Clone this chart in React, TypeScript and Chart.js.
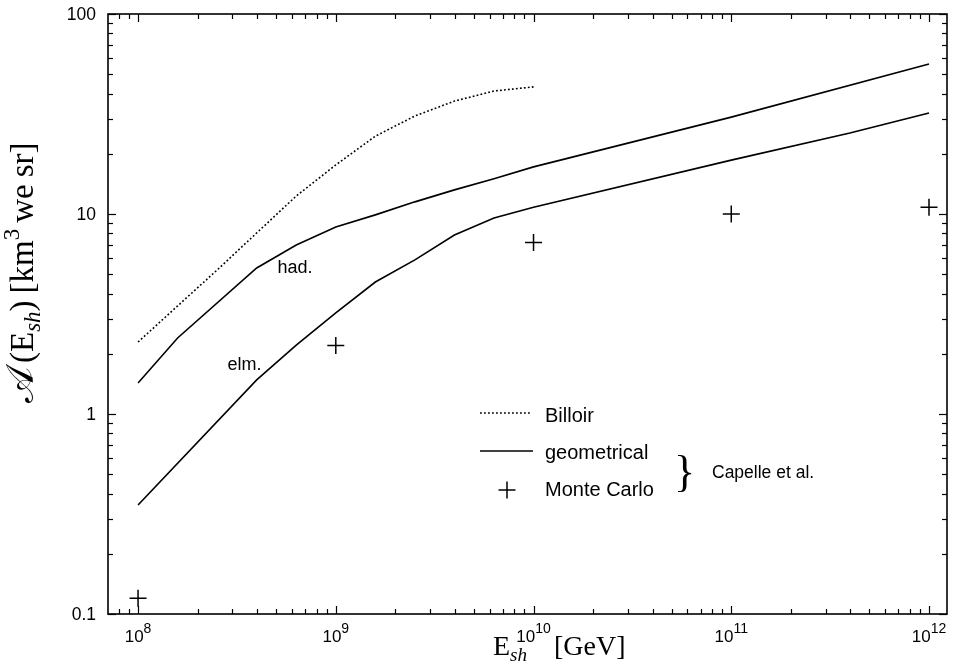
import React, { useEffect, useRef } from "react";
import { Chart, registerables } from "chart.js";

Chart.register(...registerables);

// ---- data ----
const billoirEnergies = [1e8, 1.585e8, 2.512e8, 3.981e8, 6.31e8, 1e9, 1.585e9, 2.512e9, 3.981e9, 6.31e9, 1e10];
const billoirValues = [2.29, 3.47, 5.25, 8.04, 12.3, 17.6, 24.5, 30.9, 36.7, 41.2, 43.2];

const hadEnergies = [1e8, 1.585e8, 3.981e8, 6.31e8, 1e9, 1.585e9, 2.512e9, 3.981e9, 6.31e9, 1e10, 1e11, 1e12];
const hadValues = [1.43, 2.4, 5.37, 7.0, 8.6, 9.9, 11.5, 13.2, 15.0, 17.2, 30.5, 56.2];

const elmEnergies = [1e8, 3.981e8, 6.31e8, 1e9, 1.585e9, 2.512e9, 3.981e9, 6.31e9, 1e10, 1e11, 3.981e11, 1e12];
const elmValues = [0.351, 1.48, 2.21, 3.2, 4.57, 5.9, 7.85, 9.55, 10.8, 18.6, 25.4, 32.0];

const mcEnergies = [1e8, 1e9, 1e10, 1e11, 1e12];
const mcValues = [0.12, 2.2, 7.2, 10.0, 10.8];

const xTickExponents = ["8", "9", "10", "11", "12"];
const yTickValues = [0.1, 1, 10, 100];
const yTickLabels = ["0.1", "1", "10", "100"];

const legendLabels = ["Billoir", "geometrical", "Monte Carlo"];
const groupLabel = "Capelle et al.";

const X_MIN = Math.pow(10, 7.848);
const X_MAX = Math.pow(10, 12.091);

const toPts = (xs: number[], ys: number[]) => xs.map((x, i) => ({ x, y: ys[i] }));

const SANS = "'Liberation Sans', Arial, Helvetica, sans-serif";
const SERIF = "'Liberation Serif', 'Times New Roman', serif";

const decorPlugin = {
  id: "decor",
  afterDraw(chart: any) {
    const ctx: CanvasRenderingContext2D = chart.ctx;
    const { left, right, top, bottom } = chart.chartArea;
    const xs = chart.scales.x;
    const ys = chart.scales.y;
    ctx.save();
    ctx.strokeStyle = "#000";
    ctx.fillStyle = "#000";

    const seg = (x1: number, y1: number, x2: number, y2: number) => {
      ctx.beginPath();
      ctx.moveTo(x1, y1);
      ctx.lineTo(x2, y2);
      ctx.stroke();
    };

    // frame
    ctx.lineWidth = 1.6;
    ctx.strokeRect(left, top, right - left, bottom - top);

    // inward ticks on all sides
    ctx.lineWidth = 1.2;
    for (let e = 7; e <= 12; e++) {
      for (let m = 1; m <= 9; m++) {
        const v = m * Math.pow(10, e);
        if (v < xs.min * 1.0001 || v > xs.max / 1.0001) continue;
        const px = Math.round(xs.getPixelForValue(v)) + 0.5;
        const len = m === 1 ? 8 : 5;
        seg(px, bottom, px, bottom - len);
        seg(px, top, px, top + len);
      }
    }
    for (let e = -1; e <= 2; e++) {
      for (let m = 1; m <= 9; m++) {
        const v = m * Math.pow(10, e);
        if (v < ys.min / 1.0001 || v > ys.max * 1.0001) continue;
        const py = Math.round(ys.getPixelForValue(v)) + 0.5;
        const len = m === 1 ? 8 : 5;
        seg(left, py, left + len, py);
        seg(right, py, right - len, py);
      }
    }

    // y tick labels
    ctx.font = `17.5px ${SANS}`;
    ctx.textAlign = "right";
    ctx.textBaseline = "middle";
    yTickValues.forEach((v, i) => {
      ctx.fillText(yTickLabels[i], left - 12, ys.getPixelForValue(v) + 1);
    });

    // x tick labels 10^n
    ctx.textAlign = "left";
    ctx.textBaseline = "alphabetic";
    xTickExponents.forEach((ex) => {
      const v = Math.pow(10, Number(ex));
      const px = xs.getPixelForValue(v);
      ctx.font = `17px ${SANS}`;
      const wb = ctx.measureText("10").width;
      ctx.font = `14px ${SANS}`;
      const we = ctx.measureText(ex).width;
      const start = px - (wb + we) / 2;
      ctx.font = `17px ${SANS}`;
      ctx.fillText("10", start, bottom + 28);
      ctx.font = `14px ${SANS}`;
      ctx.fillText(ex, start + wb, bottom + 19);
    });

    // x axis title: E_sh [GeV]
    {
      let x = left + 385;
      const base = bottom + 41;
      ctx.font = `28px ${SERIF}`;
      ctx.fillText("E", x, base);
      x += ctx.measureText("E").width;
      ctx.font = `italic 19px ${SERIF}`;
      ctx.fillText("sh", x, base + 6);
      x += ctx.measureText("sh").width + 27;
      ctx.font = `28px ${SERIF}`;
      ctx.fillText("[GeV]", x, base);
    }

    // y axis title: A(E_sh) [km^3 we sr]
    {
      ctx.save();
      ctx.translate(left - 75, top + 389);
      ctx.rotate(-Math.PI / 2);
      let x = 0;
      const big = `33px ${SERIF}`;
      const small = `italic 23px ${SERIF}`;
      const sup = `23px ${SERIF}`;
      const put = (t: string, font: string, dy: number, extra = 0) => {
        ctx.font = font;
        ctx.fillText(t, x, dy);
        x += ctx.measureText(t).width + extra;
      };
      put("\u{1D49C}", `38px 'DejaVu Serif', 'DejaVu Sans', ${SERIF}`, 0, 4);
      put("(", big, 0);
      put("E", big, 0);
      put("sh", small, 7);
      put(")", big, 0, 7);
      put("[km", big, 0);
      put("3", sup, -14, 6);
      put("we", big, 0, 7);
      put("sr]", big, 0);
      ctx.restore();
    }

    // curve annotations
    ctx.font = `18px ${SANS}`;
    ctx.fillText("had.", xs.getPixelForValue(Math.pow(10, 8.705)), ys.getPixelForValue(5.07));
    ctx.fillText("elm.", xs.getPixelForValue(Math.pow(10, 8.452)), ys.getPixelForValue(1.66));

    // legend
    const lx = left + 372;
    const tx = left + 437;
    ctx.lineWidth = 1.6;
    ctx.setLineDash([1.8, 2.2]);
    seg(lx, top + 399, lx + 50, top + 399);
    ctx.setLineDash([]);
    seg(lx, top + 437, lx + 53, top + 437);
    ctx.lineWidth = 1.5;
    seg(lx + 18.5, top + 476, lx + 35.5, top + 476);
    seg(lx + 27, top + 467.5, lx + 27, top + 484.5);
    ctx.font = `20px ${SANS}`;
    ctx.fillText(legendLabels[0], tx, top + 408);
    ctx.fillText(legendLabels[1], tx, top + 445);
    ctx.fillText(legendLabels[2], tx, top + 482);

    // brace and group label
    ctx.font = `44px ${SERIF}`;
    ctx.fillText("}", left + 566, top + 472);
    ctx.font = `17.5px ${SANS}`;
    ctx.fillText(groupLabel, left + 604, top + 464);

    ctx.restore();
  },
};

export default function App() {
  const ref = useRef<HTMLCanvasElement | null>(null);

  useEffect(() => {
    document.body.style.margin = "0";
    const canvas = ref.current;
    if (!canvas) return;
    const chart = new Chart(canvas, {
      type: "scatter",
      data: {
        datasets: [
          {
            label: "Billoir",
            data: toPts(billoirEnergies, billoirValues),
            showLine: true,
            borderColor: "#000",
            borderWidth: 1.6,
            borderDash: [1.8, 2.2],
            pointRadius: 0,
            tension: 0,
          },
          {
            label: "had.",
            data: toPts(hadEnergies, hadValues),
            showLine: true,
            borderColor: "#000",
            borderWidth: 1.6,
            pointRadius: 0,
            tension: 0,
          },
          {
            label: "elm.",
            data: toPts(elmEnergies, elmValues),
            showLine: true,
            borderColor: "#000",
            borderWidth: 1.6,
            pointRadius: 0,
            tension: 0,
          },
          {
            label: "Monte Carlo",
            data: toPts(mcEnergies, mcValues),
            showLine: false,
            pointStyle: "cross",
            pointRadius: 8.5,
            pointBorderWidth: 1.5,
            borderColor: "#000",
            backgroundColor: "#000",
            clip: false,
          },
        ],
      },
      options: {
        animation: false,
        responsive: false,
        events: [],
        layout: { autoPadding: false, padding: { left: 108, top: 14, right: 6, bottom: 58 } },
        plugins: { legend: { display: false }, tooltip: { enabled: false } },
        scales: {
          x: { type: "logarithmic", min: X_MIN, max: X_MAX, display: false },
          y: { type: "logarithmic", min: 0.1, max: 100, display: false },
        },
      },
      plugins: [decorPlugin],
    });
    return () => chart.destroy();
  }, []);

  return (
    <div style={{ width: 953, height: 672, background: "#fff" }}>
      <canvas ref={ref} width={953} height={672} style={{ display: "block" }} />
    </div>
  );
}
